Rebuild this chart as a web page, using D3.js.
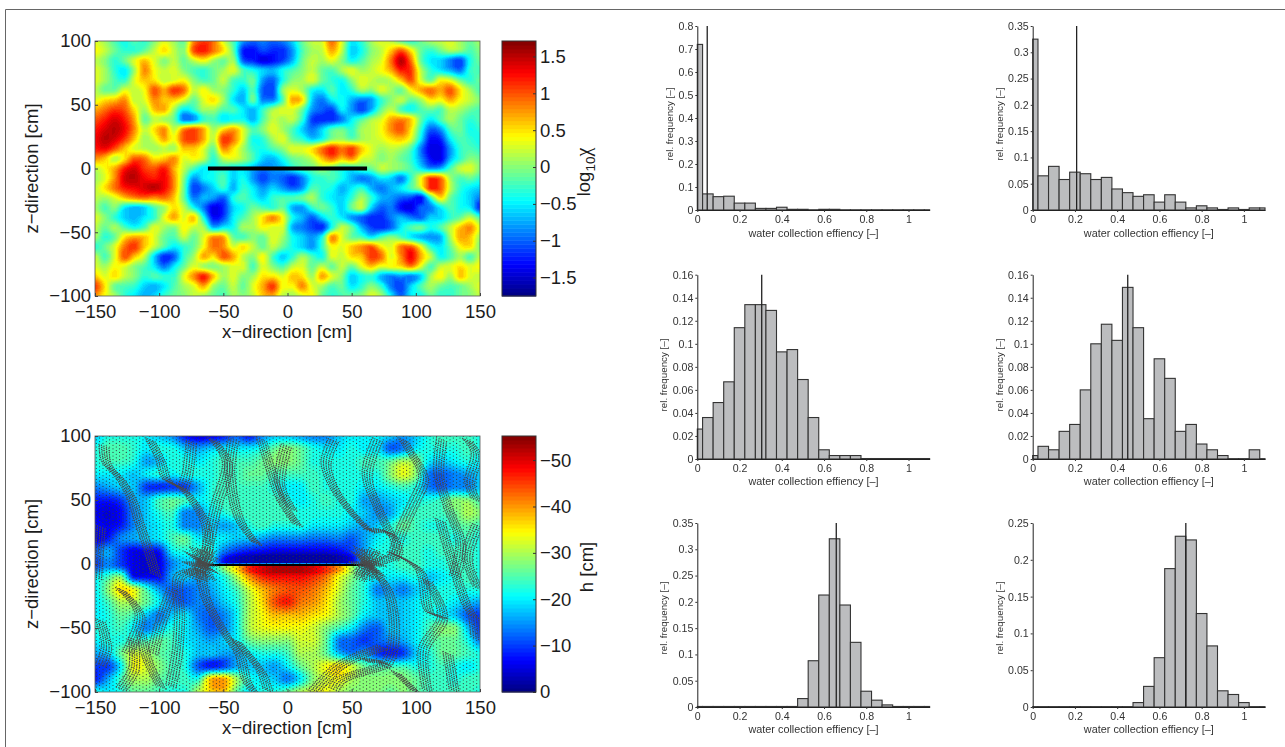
<!DOCTYPE html>
<html><head><meta charset="utf-8">
<script src="https://cdn.jsdelivr.net/npm/d3@7"></script>
<style>html,body{margin:0;padding:0;background:#fff;}svg{display:block;font-family:"Liberation Sans",Arial,sans-serif;}</style>
</head><body><svg id="c" width="1285" height="747"></svg>
<script>
// ---------- histogram data (bin centres 0, 0.05 ... 1.1) ----------
const binCentres = d3.range(23).map(i => i * 0.05);
const hist1 = [.72,.07,.058,.06,.03,.03,.007,.007,.012,.003,.003,.001,.003,.003,.001,.001,.001,.001,.001,.001,.001,.001,.001];
const hist2 = [.325,.065,.083,.058,.072,.069,.058,.062,.04,.033,.026,.029,.015,.029,.015,.004,.008,.004,.001,.004,.001,.004,.004];
const hist3 = [.026,.036,.049,.067,.114,.134,.134,.129,.093,.095,.069,.036,.008,.003,.003,.003,.0004,.0004,.0004,.0004,.0004,.0004,.0004];
const hist4 = [.003,.011,.008,.024,.03,.06,.1,.117,.103,.149,.114,.035,.087,.07,.024,.03,.013,.008,.003,.0003,.0003,.008,.0003];
const hist5 = [.001,.001,.001,.001,.001,.001,.001,.001,.001,.001,.016,.088,.213,.32,.194,.123,.03,.013,.004,.001,.001,.001,.001];
const hist6 = [.0005,.0005,.0005,.0005,.0005,.0005,.0005,.0005,.0005,.0005,.006,.028,.067,.188,.232,.227,.127,.083,.022,.017,.006,.0005,.0005];
const means = [.047,.208,.305,.45,.658,.725];
const yMaxes = [.8,.35,.16,.16,.35,.25];
const ySteps = [.1,.05,.02,.02,.05,.05];
const histLabels = {x:"water collection effiency [\u2013]", y:"rel. frequency [\u2013]"};

// ---------- log10 chi field, tenths, read on a 40 x 27 grid ----------
const chiRows = [
[3,1,-2,-4,-2,-3,0,3,1,-1,8,11,9,3,-2,-8,-10,-9,-10,-9,-6,-1,2,3,9,3,-5,-3,1,3,2,-1,-3,-1,1,2,3,1,-1,1],
[4,2,-1,-3,-3,-1,2,5,2,0,10,12,9,5,-1,-12,-13,-11,-12,-12,-8,-2,1,2,7,2,-6,-4,0,2,6,10,5,-1,-3,-1,1,0,-2,0],
[2,0,-3,-1,3,6,3,0,2,-1,2,4,1,-1,1,-10,-12,-14,-13,-11,-7,-1,2,1,3,0,-4,-2,1,3,9,15,9,-1,-5,-6,-9,-11,-4,-1],
[3,1,-3,-5,1,8,4,2,3,0,-2,-3,-1,1,3,-2,-4,-6,-7,-4,-2,0,2,-1,-2,1,3,1,2,4,7,12,11,2,-3,-5,-7,-9,-3,-2],
[3,1,-2,-3,3,6,5,2,3,4,0,-2,-1,2,-2,-3,-1,-8,-10,-4,0,1,3,-1,-3,-4,0,3,2,1,2,6,10,3,-1,4,3,-1,-3,-1],
[2,-1,-1,3,2,4,10,7,11,9,2,4,1,0,-3,-6,-2,-10,-11,0,3,1,-4,-5,-2,-5,-3,1,0,3,1,-1,4,7,9,7,10,5,1,-2],
[3,5,6,8,2,3,8,6,6,3,-1,3,5,1,-5,-7,-1,-9,-9,-2,7,5,-6,-9,-5,-4,-7,-9,-8,-3,0,2,-1,1,5,4,7,4,2,0],
[7,9,11,10,5,1,6,7,1,-5,-3,1,1,-2,-2,-5,-7,-3,1,3,3,-1,-8,-10,-11,-5,-8,-11,-7,-1,2,-2,-4,-2,-1,-2,2,1,-1,-2],
[10,12,14,12,7,-1,2,1,-1,-9,-8,-3,-2,-5,-4,-4,-7,-2,2,1,2,-3,-11,-12,-12,-9,-5,-2,1,3,7,8,6,-1,-5,-2,1,-1,-3,-2],
[12,14,15,13,8,2,5,8,2,8,10,7,1,5,7,3,-2,0,3,1,-2,-6,-9,-6,-2,-1,-3,1,2,4,8,10,5,-3,-10,-8,-2,-1,-4,-3],
[13,15,14,11,6,1,3,7,4,10,11,7,2,11,9,3,-4,-3,1,3,-1,-3,-6,-4,0,1,-1,1,2,3,5,6,3,-5,-13,-12,-5,-2,-3,-4],
[12,13,10,6,3,2,1,2,1,6,6,3,-1,8,5,1,-3,-4,-2,0,3,3,5,9,12,9,11,6,3,1,2,1,-2,-9,-14,-14,-8,-3,-2,-3],
[8,6,2,5,10,9,5,6,8,3,4,2,-3,2,3,1,-2,-6,-7,-4,-1,0,2,6,9,6,8,3,2,0,1,-1,-3,-8,-13,-14,-7,-3,0,-1],
[2,4,7,12,14,11,10,12,7,2,-2,-5,-4,-3,-5,-5,-7,-9,-8,-7,-4,-2,-1,1,-1,-3,-4,-2,-1,2,1,0,-2,-5,-8,-7,-2,2,3,0],
[1,3,8,14,15,13,12,13,8,0,-8,-5,-4,-2,-6,-4,-8,-11,-9,-10,-12,-9,-4,-3,-2,-4,-7,-9,-8,-5,-6,-9,-3,4,11,9,1,-2,-1,-3],
[2,5,9,12,13,14,15,13,8,-1,-11,-9,-6,-3,-7,-3,-5,-8,-6,-8,-10,-8,-2,-3,-4,-7,-5,-3,-7,-9,-7,-5,-2,2,12,10,2,-3,-5,-6],
[2,1,3,6,8,9,8,9,6,-1,-9,-7,-8,-10,-4,-2,-4,-6,-3,-2,-2,-1,1,-3,-5,-6,-3,1,-3,-7,-8,-10,-11,-13,-3,5,-1,-4,-6,-9],
[1,-2,0,-5,-7,-6,-2,1,5,2,-4,-9,-14,-12,-6,-4,-1,-2,-3,-1,-7,-8,-3,-1,-3,-6,-1,2,-6,-10,-9,-13,-14,-10,-9,-5,-2,-4,-5,-12],
[3,0,-3,-6,-7,-5,-3,3,7,3,6,-4,-13,-11,-5,-2,1,5,8,4,-4,-7,-10,-6,-3,-5,-8,-10,-12,-12,-9,-7,-9,-10,-6,-6,-3,-1,2,-2],
[2,-1,1,-2,-4,-2,3,1,0,4,2,1,-7,-5,-4,1,1,4,3,3,-7,-9,-11,-12,-4,2,-1,-7,-11,-12,-10,-5,-2,-1,-4,-2,2,6,8,3],
[1,-3,-1,5,7,6,3,-1,-2,2,-1,3,8,7,-1,-2,0,-1,3,1,-4,-6,-8,-4,8,3,-1,-2,-5,-2,0,-2,-5,-7,-8,-7,1,7,6,1],
[-3,-1,3,9,11,6,2,-2,-5,-3,-1,4,9,8,3,5,2,-1,2,-1,-4,-6,-8,-3,4,3,6,8,10,5,3,9,10,4,-3,-5,-1,4,5,0],
[2,-2,3,10,6,2,-6,-12,-10,-3,1,7,5,10,7,2,0,4,-2,-6,-3,1,-2,-4,3,2,5,6,11,9,3,8,13,7,2,-4,-2,1,-2,2],
[3,1,4,3,0,-2,-5,-9,-5,-1,3,1,0,1,3,3,-2,3,0,-2,2,3,-1,2,-1,2,-1,3,6,3,4,5,8,3,-2,2,3,5,3,4],
[6,3,5,2,0,-3,-2,-3,-3,3,8,12,6,1,3,0,1,5,5,3,6,5,1,7,3,0,-6,-4,-3,-7,-9,-8,-9,-6,1,4,1,6,3,2],
[11,5,-1,-2,-3,-6,-7,-5,-2,1,3,7,1,-1,2,-1,3,7,11,4,4,8,3,1,-2,-1,-5,-3,0,-3,-9,-11,-6,-2,1,-1,-2,-1,1,3],
[8,4,1,-3,-5,-7,-6,-3,-1,0,2,1,-1,-2,1,0,2,6,7,2,1,3,4,-1,-3,-2,-1,0,3,1,-5,-10,-5,-4,-1,-3,-3,-1,0,2]
];

// ---------- pressure head |h| in cm, read at x = -150..150 by 10, z below ----------
const headZ = [100,90,80,70,60,50,40,30,20,10,1,-1,-10,-20,-30,-40,-50,-60,-70,-80,-90,-100];
const headRows = [
[18,22,22,22,20,18,15,8,5,6,8,12,8,14,18,18,16,14,14,18,20,20,20,18,15,18,22,24,24,24,22],
[22,25,25,23,20,22,22,18,16,18,20,20,20,22,26,28,26,22,20,20,22,20,20,12,14,20,22,22,22,24,22],
[22,24,24,22,16,18,22,22,20,22,24,24,24,26,28,28,26,22,22,22,22,24,24,26,30,28,20,18,20,22,20],
[20,20,20,18,20,22,20,22,22,22,24,24,26,26,24,24,24,24,22,22,22,22,22,28,33,28,14,12,14,16,18],
[14,16,18,18,10,9,10,10,16,22,24,24,24,24,22,20,20,24,22,22,22,20,20,22,24,22,14,12,14,14,18],
[8,8,10,16,18,24,26,24,20,22,24,24,24,24,24,22,20,22,24,22,22,16,16,18,20,22,22,24,28,28,24],
[6,5,7,14,18,22,24,14,14,20,22,24,24,24,24,24,22,22,22,22,20,18,15,16,22,24,24,24,26,30,28],
[7,6,8,14,18,20,22,14,14,18,16,18,22,24,22,22,22,20,20,20,18,16,18,22,26,24,22,22,24,26,24],
[5,8,14,16,18,20,24,26,20,20,20,18,18,16,14,14,14,13,13,14,12,16,20,22,22,24,24,24,22,24,22],
[12,16,10,6,7,8,20,22,22,22,14,10,8,7,6,6,6,6,6,7,10,16,22,22,24,24,22,24,24,24,22],
[10,14,10,6,5,6,14,18,18,20,8,4,3,2,2,2,2,2,2,3,6,18,22,22,24,24,22,22,24,24,22],
[10,14,10,6,5,6,14,18,18,20,28,36,46,50,52,52,52,50,46,40,30,20,22,22,24,24,22,22,24,24,22],
[20,24,28,8,7,7,16,18,16,18,22,30,40,46,48,48,48,46,42,34,28,22,20,20,20,22,18,20,22,24,22],
[20,28,36,34,24,16,12,12,14,16,20,24,32,38,42,44,44,42,38,32,26,22,14,16,14,18,20,22,22,22,22],
[20,24,30,30,26,20,14,12,14,14,18,22,30,36,44,47,42,40,36,30,26,22,18,18,18,20,22,22,20,18,16],
[20,22,26,24,18,14,18,20,14,12,14,20,30,34,38,38,38,36,34,30,26,20,18,18,18,20,22,20,18,12,10],
[22,22,24,20,14,18,22,20,16,12,14,20,30,33,34,34,34,32,28,24,20,14,12,18,18,20,24,28,28,18,10],
[20,22,22,24,24,26,24,20,18,16,18,20,26,28,28,28,32,32,26,14,12,10,12,14,16,20,24,26,26,22,14],
[16,18,26,32,30,26,24,22,18,18,16,16,20,22,22,24,30,30,26,18,14,16,10,8,10,18,22,26,26,24,22],
[10,10,20,34,32,28,24,22,12,8,10,16,18,18,16,20,26,30,34,36,32,26,24,24,24,22,22,24,22,20,22],
[8,16,24,30,30,26,24,24,22,38,40,30,22,20,18,14,20,28,32,34,30,28,28,28,28,26,24,24,22,24,24],
[22,20,22,26,26,24,22,22,30,36,38,26,20,22,22,26,30,32,34,30,28,28,28,26,28,26,24,24,24,24,22]
];

// ---------- particle trails, [x cm, z cm] ----------
const trails = [
[[-143,92],[-141,79],[-130,66],[-121,50],[-116,34],[-110,16],[-102,-10]],
[[-107,97],[-99,81],[-94,66],[-81,58],[-71,45],[-63,29],[-63,8],[-68,-5]],
[[-58,97],[-47,79],[-55,47],[-58,34],[-63,8]],
[[-68,-5],[-84,-10],[-84,-41],[-86,-70],[-91,-96]],
[[-68,-5],[-63,-28],[-47,-57],[-37,-72],[-32,-91],[-26,-100]],
[[-146,29],[-149,-12]],
[[-146,-44],[-141,-65],[-146,-80]],
[[-120,-59],[-120,-83],[-130,-98]],
[[-114,-54],[-109,-75],[-99,-96]],
[[-42,97],[-45,73],[-37,34],[-24,16]],
[[62,0],[77,-18],[83,-44],[81,-70],[75,-81]],
[[62,0],[85,8],[80,24],[64,26]],
[[103,57],[106,68],[95,89],[90,97]],
[[103,57],[88,24],[82,3]],
[[147,50],[142,63],[147,86],[140,97]],
[[145,-41],[147,-59]],
[[109,-13],[121,-41],[106,-67],[109,-99]],
[[59,-75],[77,-78],[41,-91],[36,-98]],
[[82,8],[103,-5],[111,-38],[121,-41]],
[[119,34],[127,6],[140,-33],[145,-41]],
[[64,26],[51,39],[36,60],[30,79],[36,97]],
[[-1,92],[-6,63],[4,42]],
[[-20,97],[-12,70],[-5,50],[8,30]],
[[70,97],[62,70],[70,45],[82,20]],
[[120,97],[118,70],[125,45],[135,15],[130,-10]],
[[-130,-20],[-115,-40],[-125,-70]],
[[-40,-60],[-20,-85],[-15,-100]],
[[20,-100],[40,-80],[60,-70],[75,-65]],
[[85,-85],[100,-100]],
[[-90,-20],[-100,-50],[-105,-70]],
[[125,-70],[130,-100]],
[[-75,95],[-78,70],[-82,58]],
[[148,30],[140,5],[149,-20]],
[[-78,0],[-58,0]],[[-76,-8],[-58,6]],[[-76,8],[-58,-6]],[[-66,-12],[-66,12]],[[-72,-12],[-60,12]],[[-72,12],[-60,-12]],
[[52,0],[74,0]],[[54,-8],[72,8]],[[54,8],[72,-8]],[[62,-12],[62,12]],[[56,-12],[68,12]],[[56,12],[68,-12]]
];
const plateEnds = [-62, 62];
const xTickVals = [-150,-100,-50,0,50,100,150];
const zTickVals = [-100,-50,0,50,100];
const chiTicks = [-1.5,-1,-0.5,0,0.5,1,1.5];
const headTicks = [0,-10,-20,-30,-40,-50];

// ---------- layout ----------
const svg = d3.select("#c");
const minus = s => String(s).replace(/-/g, "\u2212");
const INK = "#1c1c1c";
const jet = t => {
  const c = v => Math.round(255 * Math.max(0, Math.min(1, v)));
  return `rgb(${c(1.5-Math.abs(4*t-3))},${c(1.5-Math.abs(4*t-2))},${c(1.5-Math.abs(4*t-1))})`;
};
const jet64 = d3.range(64).map(i => jet((i + 0.5) / 64));

svg.append("path").attr("d","M5.5,747V9.5H1285").attr("fill","none").attr("stroke","#666").attr("stroke-width",1);
svg.append("defs").append("clipPath").attr("id","headClip").append("rect")
  .attr("x",95).attr("y",436).attr("width",385).attr("height",256);

function sampler(rows) {
  const R = rows.length, C = rows[0].length;
  const cr = (a,b,c,d,t) => {
    const v = 0.5*(2*b+(c-a)*t+(2*a-5*b+4*c-d)*t*t+(3*b-a-3*c+d)*t*t*t);
    return Math.max(Math.min(b,c), Math.min(Math.max(b,c), v));
  };
  const at = (r,c) => rows[Math.max(0,Math.min(R-1,r))][Math.max(0,Math.min(C-1,c))];
  return (ri,ci) => {
    const r0 = Math.min(R-2,Math.floor(ri)), c0 = Math.min(C-2,Math.floor(ci));
    const tr = ri-r0, tc = ci-c0;
    const col = k => cr(at(r0+k,c0-1),at(r0+k,c0),at(r0+k,c0+1),at(r0+k,c0+2),tc);
    return cr(col(-1),col(0),col(1),col(2),tr);
  };
}

function heatPanel(o) {
  const x = d3.scaleLinear().domain([-150,150]).range([95,480]);
  const z = d3.scaleLinear().domain([-100,100]).range([o.bottom,o.top]);
  const W = 385, H = Math.round(o.bottom-o.top);
  const color = d3.scaleQuantize().domain(o.colorDomain).range(jet64);
  const cv = document.createElement("canvas"); cv.width=W; cv.height=H;
  const ctx = cv.getContext("2d");
  const s = sampler(o.rows);
  for (let py=0;py<H;py++) for (let px=0;px<W;px++) {
    const xv = x.invert(95+px+.5), zv = z.invert(o.top+py+.5);
    ctx.fillStyle = color(o.value(s(o.rowIndex(zv), o.colIndex(xv))));
    ctx.fillRect(px,py,1,1);
  }
  const g = svg.append("g");
  g.append("image").attr("x",95).attr("y",o.top).attr("width",W).attr("height",H)
    .attr("href",cv.toDataURL());
  if (o.overlay) o.overlay(g,x,z);

  g.append("rect").attr("x",95).attr("y",o.top).attr("width",W).attr("height",H)
    .attr("fill","none").attr("stroke","#555").attr("stroke-width",.8);

  const ax = g.append("g").attr("transform",`translate(0,${o.bottom})`)
    .call(d3.axisBottom(x).tickValues(xTickVals).tickSize(-3).tickPadding(9).tickFormat(minus));
  const ay = g.append("g").attr("transform","translate(95,0)")
    .call(d3.axisLeft(z).tickValues(zTickVals).tickSize(-3).tickPadding(4).tickFormat(minus));
  [ax,ay].forEach(a=>{
    a.select(".domain").remove();
    a.selectAll("line").attr("stroke","#444");
    a.selectAll("text").attr("fill",INK).style("font-size","18.5px").style("font-family",'"Liberation Sans"');
  });
  g.append("text").attr("x",287).attr("y",o.bottom+42).attr("text-anchor","middle")
    .attr("fill",INK).style("font-size","18.5px").text("x\u2212direction [cm]");
  g.append("text").attr("transform",`translate(38,${(o.top+o.bottom)/2}) rotate(-90)`).attr("text-anchor","middle")
    .attr("fill",INK).style("font-size","18.5px").text("z\u2212direction [cm]");

  // colour bar
  const c = d3.scaleLinear().domain(o.domain).range(o.cbarRange);
  const bandW = (o.domain[1]-o.domain[0])/64;
  g.append("g").selectAll("rect").data(jet64).join("rect")
    .attr("x",502).attr("width",34)
    .attr("y",(d,i)=>Math.min(c(o.domain[0]+i*bandW),c(o.domain[0]+(i+1)*bandW)))
    .attr("height",Math.abs(c(o.domain[0]+bandW)-c(o.domain[0]))+.5)
    .attr("fill",d=>d);
  g.append("rect").attr("x",502).attr("y",o.top).attr("width",34).attr("height",H)
    .attr("fill","none").attr("stroke","#333").attr("stroke-width",1);
  const ac = g.append("g").attr("transform","translate(536,0)")
    .call(d3.axisRight(c).tickValues(o.ticks).tickSize(-3).tickPadding(4).tickFormat(minus));
  ac.select(".domain").remove();
  ac.selectAll("line").attr("stroke","#333");
  ac.selectAll("text").attr("fill",INK).style("font-size","18.5px").style("font-family",'"Liberation Sans"');
  o.cbarLabel(g);
}

// top panel
const chiCol = d3.scaleLinear().domain([-150,150]).range([0,chiRows[0].length-1]);
const chiRow = d3.scaleLinear().domain([100,-100]).range([0,chiRows.length-1]);
heatPanel({
  top:41, bottom:296, rows:chiRows, domain:[-1.75,1.71], colorDomain:[-1.75,1.71], cbarRange:[296,41],
  value:v=>v/10, rowIndex:chiRow, colIndex:chiCol, ticks:chiTicks,
  overlay:(g,x,z)=>{
    g.append("line").attr("x1",x(plateEnds[0])).attr("x2",x(plateEnds[1]))
      .attr("y1",z(0)).attr("y2",z(0)).attr("stroke","#000").attr("stroke-width",4);
  },
  cbarLabel:g=>{
    const t=g.append("text").attr("transform","translate(590,172) rotate(-90)").attr("text-anchor","middle")
      .attr("fill",INK).style("font-size","18.5px");
    t.append("tspan").text("log");
    t.append("tspan").attr("dy",5).style("font-size","13.5px").text("10");
    t.append("tspan").attr("dy",-5).style("font-family",'"Liberation Serif"').style("font-size","20px").text("\u03c7");
  }
});

// bottom panel
const headCol = d3.scaleLinear().domain([-150,150]).range([0,headRows[0].length-1]);
const headRow = d3.scaleLinear().domain(headZ).range(d3.range(headZ.length));
heatPanel({
  top:436, bottom:692, rows:headRows, domain:[0,-55.2], colorDomain:[0,55.2], cbarRange:[692,436],
  value:v=>v, rowIndex:headRow, colIndex:headCol, ticks:headTicks,
  overlay:(g,x,z)=>{
    const clip=g.append("g").attr("clip-path","url(#headClip)");
    let d="";
    d3.range(-149,150,2.6).forEach((xv,i)=>{
      d3.range(-99,100,2.8).forEach(zv=>{
        d+=`M${x(xv).toFixed(1)},${z(zv+(i%2)*1.4).toFixed(1)}h0`;
      });
    });
    clip.append("path").attr("d",d).attr("fill","none").attr("stroke","#333")
      .attr("stroke-width",1.15).attr("stroke-linecap","round");
    clip.append("line").attr("x1",x(plateEnds[0])).attr("x2",x(plateEnds[1]))
      .attr("y1",z(0)+1).attr("y2",z(0)+1).attr("stroke","#000").attr("stroke-width",2);
    const line=d3.line().x(d=>x(d[0])).y(d=>z(d[1])).curve(d3.curveCatmullRom);
    [-5,-2.5,0,2.5,5].forEach(off=>{
      clip.append("g").attr("transform",`translate(${off},${off*.4})`)
        .selectAll("path").data(trails).join("path")
        .attr("d",line).attr("fill","none").attr("stroke","#4a4a4a")
        .attr("stroke-width",1.3).attr("stroke-linecap","round").attr("stroke-dasharray","0.2 2");
    });
  },
  cbarLabel:g=>{
    g.append("text").attr("transform","translate(593,567) rotate(-90)").attr("text-anchor","middle")
      .attr("fill",INK).style("font-size","18.5px").text("h [cm]");
  }
});

// histograms
const histSeries=[hist1,hist2,hist3,hist4,hist5,hist6];
const histX0=[697.3,1032.7], histRows=[[26,210,223,237],[274.7,459,472,485],[523,707,720,733]];
const yLabelX=[[673,1003],[667,1003],[667,1003]], yLabelCy=[124,375,618];
histSeries.forEach((vals,k)=>{
  const col=k%2,row=Math.floor(k/2),[top,bot,tickY,labY]=histRows[row];
  const x=d3.scaleLinear().domain([0,1]).range([histX0[col],histX0[col]+211.2]);
  const y=d3.scaleLinear().domain([0,yMaxes[k]]).range([bot,top]);
  const g=svg.append("g").style("filter","blur(0.3px)");
  g.append("g").selectAll("rect").data(vals).join("rect")
    .attr("x",(d,i)=>x(Math.max(0,binCentres[i]-.025)))
    .attr("width",(d,i)=>x(Math.min(1.1,binCentres[i]+.025))-x(Math.max(0,binCentres[i]-.025)))
    .attr("y",d=>y(d)).attr("height",d=>bot-y(d))
    .attr("fill","#bcbdbf").attr("stroke","#333").attr("stroke-width",1.1);
  g.append("line").attr("x1",x(means[k])).attr("x2",x(means[k])).attr("y1",bot).attr("y2",top)
    .attr("stroke","#222").attr("stroke-width",1.3);
  const ax=g.append("g").attr("transform",`translate(0,${bot})`)
    .call(d3.axisBottom(x.copy().domain([0,1.1]).range([x(0),x(1.1)])).tickValues([0,.2,.4,.6,.8,1]).tickSize(2).tickSizeOuter(0).tickPadding(3).tickFormat(d3.format("~g")));
  const ay=g.append("g").attr("transform",`translate(${x(0)},0)`)
    .call(d3.axisLeft(y).tickValues(d3.range(0,yMaxes[k]+1e-9,ySteps[k])).tickSize(2).tickSizeOuter(0).tickPadding(2).tickFormat(d3.format("~g")));
  [ax,ay].forEach(a=>{
    a.select(".domain").attr("stroke","#222").attr("stroke-width",1);
    a.selectAll("line").attr("stroke","#333");
    a.selectAll("text").attr("fill","#333").style("font-size","10.6px").style("font-family",'"Liberation Sans"');
  });
  g.append("text").attr("x",x(.55)).attr("y",labY).attr("text-anchor","middle").attr("fill","#333")
    .attr("textLength",130).attr("lengthAdjust","spacingAndGlyphs")
    .style("font-size","10px").text(histLabels.x);
  g.append("text").attr("transform",`translate(${yLabelX[row][col]},${yLabelCy[row]}) rotate(-90)`).attr("text-anchor","middle")
    .attr("fill","#333").style("font-size","9.8px").text(histLabels.y);
});
</script></body></html>
